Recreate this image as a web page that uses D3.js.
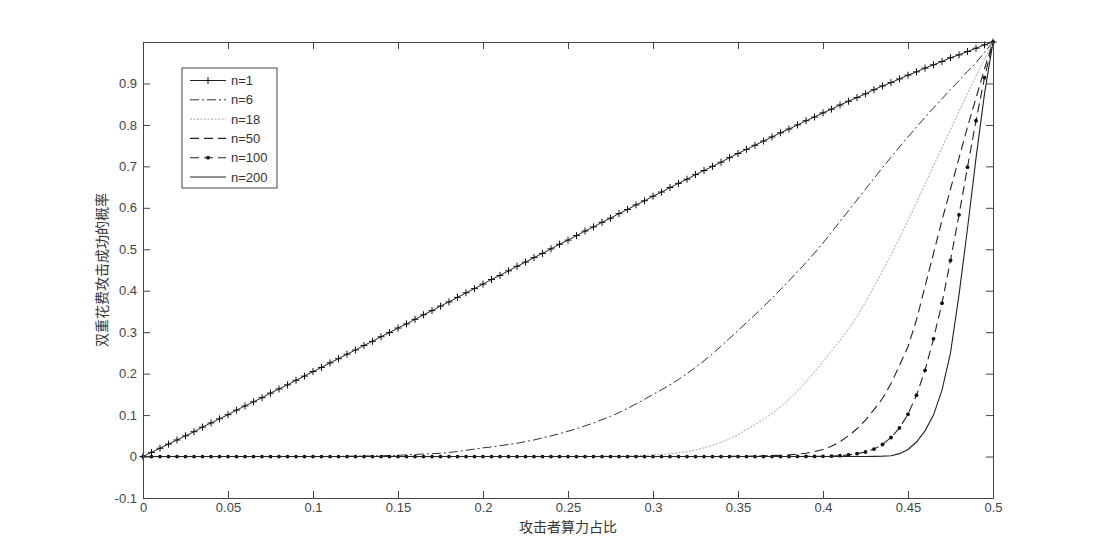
<!DOCTYPE html>
<html>
<head>
<meta charset="utf-8">
<script src="https://cdn.jsdelivr.net/npm/d3@7"></script>
<style>
body { margin:0; background:#fff; }
.axis text { font-family:"Liberation Sans", Arial, sans-serif; font-size:13px; fill:#444; }
.axis path, .axis line { stroke:#444; }
.label { font-family:"Noto Sans CJK SC", sans-serif; font-size:14px; fill:#333; }
.legend { font-family:"Liberation Sans", Arial, sans-serif; font-size:13px; fill:#333; }
</style>
</head>
<body>
<svg id="chart" width="1096" height="560"></svg>
<script>
// attacker hash share (x) sampled every 0.005
let attackerShare = [
0,0.005,0.01,0.015,0.02,0.025,0.03,0.035,0.04,0.045,
0.05,0.055,0.06,0.065,0.07,0.075,0.08,0.085,0.09,0.095,
0.1,0.105,0.11,0.115,0.12,0.125,0.13,0.135,0.14,0.145,
0.15,0.155,0.16,0.165,0.17,0.175,0.18,0.185,0.19,0.195,
0.2,0.205,0.21,0.215,0.22,0.225,0.23,0.235,0.24,0.245,
0.25,0.255,0.26,0.265,0.27,0.275,0.28,0.285,0.29,0.295,
0.3,0.305,0.31,0.315,0.32,0.325,0.33,0.335,0.34,0.345,
0.35,0.355,0.36,0.365,0.37,0.375,0.38,0.385,0.39,0.395,
0.4,0.405,0.41,0.415,0.42,0.425,0.43,0.435,0.44,0.445,
0.45,0.455,0.46,0.465,0.47,0.475,0.48,0.485,0.49,0.495,
0.5]

let n1 = [
0,0.010,0.020,0.030,0.040,0.050,0.060,0.071,0.081,0.091,
0.101,0.112,0.122,0.132,0.142,0.153,0.163,0.173,0.184,0.194,
0.205,0.215,0.226,0.236,0.247,0.257,0.268,0.278,0.289,0.299,
0.310,0.320,0.331,0.342,0.352,0.363,0.373,0.384,0.395,0.405,
0.416,0.427,0.437,0.448,0.459,0.469,0.480,0.490,0.501,0.512,
0.522,0.533,0.544,0.554,0.565,0.575,0.586,0.596,0.607,0.617,
0.628,0.638,0.649,0.659,0.669,0.680,0.690,0.700,0.710,0.721,
0.731,0.741,0.751,0.761,0.771,0.781,0.790,0.800,0.810,0.819,
0.829,0.838,0.848,0.857,0.866,0.875,0.885,0.894,0.902,0.911,
0.920,0.928,0.937,0.945,0.953,0.962,0.969,0.977,0.985,0.993,
1]

let n6 = [
0,0,0,0,0,0,0,0,0,0,
0,0,0,0,0,0,0,0,0,0,
0,0,0,0,0.001,0.001,0.0015,0.0015,0.002,0.0025,
0.003,0.004,0.005,0.006,0.007,0.008,0.010,0.012,0.015,0.018,
0.021,0.023,0.026,0.029,0.032,0.036,0.040,0.045,0.050,0.055,
0.061,0.067,0.074,0.081,0.089,0.097,0.106,0.116,0.127,0.138,
0.150,0.161,0.173,0.186,0.200,0.215,0.231,0.248,0.266,0.285,
0.304,0.323,0.342,0.362,0.382,0.403,0.424,0.446,0.468,0.491,
0.515,0.541,0.567,0.593,0.619,0.645,0.671,0.697,0.722,0.747,
0.771,0.795,0.818,0.841,0.863,0.885,0.907,0.929,0.950,0.975,
1]

let n18 = [
0,0,0,0,0,0,0,0,0,0,
0,0,0,0,0,0,0,0,0,0,
0,0,0,0,0,0,0,0,0,0,
0,0,0,0,0,0,0,0,0,0,
0,0,0,0,0,0,0,0,0,0,
0,0,0.0003,0.0005,0.0007,0.001,0.0013,0.0017,0.0022,0.003,
0.004,0.005,0.007,0.009,0.012,0.016,0.021,0.027,0.034,0.043,
0.053,0.065,0.077,0.090,0.104,0.120,0.138,0.158,0.180,0.204,
0.229,0.254,0.280,0.308,0.338,0.372,0.410,0.447,0.486,0.527,
0.569,0.613,0.657,0.701,0.745,0.789,0.832,0.875,0.917,0.959,
1]

let n50 = [
0,0,0,0,0,0,0,0,0,0,
0,0,0,0,0,0,0,0,0,0,
0,0,0,0,0,0,0,0,0,0,
0,0,0,0,0,0,0,0,0,0,
0,0,0,0,0,0,0,0,0,0,
0,0,0,0,0,0,0,0,0,0,
0,0,0,0,0,0,0,0,0,0.0003,
0.0005,0.0007,0.001,0.0015,0.002,0.003,0.004,0.006,0.008,0.012,
0.017,0.025,0.036,0.050,0.067,0.088,0.113,0.140,0.176,0.220,
0.265,0.330,0.410,0.490,0.570,0.645,0.720,0.795,0.865,0.935,
1]

let n100 = [
0,0,0,0,0,0,0,0,0,0,
0,0,0,0,0,0,0,0,0,0,
0,0,0,0,0,0,0,0,0,0,
0,0,0,0,0,0,0,0,0,0,
0,0,0,0,0,0,0,0,0,0,
0,0,0,0,0,0,0,0,0,0,
0,0,0,0,0,0,0,0,0,0,
0,0,0,0,0,0,0,0.0002,0.0003,0.0003,
0.0005,0.001,0.002,0.004,0.007,0.011,0.018,0.029,0.046,0.069,
0.102,0.148,0.208,0.284,0.370,0.473,0.583,0.698,0.810,0.914,
1]

let n200 = [
0,0,0,0,0,0,0,0,0,0,
0,0,0,0,0,0,0,0,0,0,
0,0,0,0,0,0,0,0,0,0,
0,0,0,0,0,0,0,0,0,0,
0,0,0,0,0,0,0,0,0,0,
0,0,0,0,0,0,0,0,0,0,
0,0,0,0,0,0,0,0,0,0,
0,0,0,0,0,0,0,0,0,0,
0,0,0,0,0,0,0.0005,0.001,0.002,0.007,
0.017,0.035,0.062,0.100,0.160,0.250,0.390,0.550,0.720,0.875,
1]

let seriesNames = ["n=1","n=6","n=18","n=50","n=100","n=200"]
let xTicks = [0,0.05,0.1,0.15,0.2,0.25,0.3,0.35,0.4,0.45,0.5]
let yTicks = [-0.1,0,0.1,0.2,0.3,0.4,0.5,0.6,0.7,0.8,0.9]
let xLabel = "攻击者算力占比"
let yLabel = "双重花费攻击成功的概率"

function prob_plot(axis_key){
  let svg = d3.select(`#${axis_key}`)
  svg.selectAll("*").remove()

  let left = 143, right = 993, top = 42, bottom = 498

  let xScale = d3.scaleLinear().domain([0,0.5]).range([left,right])
  let yScale = d3.scaleLinear().domain([-0.1,1]).range([bottom,top])

  // line styles, same order as seriesNames
  let styles = [
    {data:n1,   color:"#222", width:1,   dash:null,      marker:"plus"},
    {data:n6,   color:"#333", width:1,   dash:"9,3,2,3", marker:null},
    {data:n18,  color:"#999", width:0.9, dash:"2,1.5",   marker:null},
    {data:n50,  color:"#222", width:1.1, dash:"9,5",     marker:null},
    {data:n100, color:"#222", width:1.1, dash:"9,5",     marker:"dot"},
    {data:n200, color:"#222", width:1.1, dash:null,      marker:null}
  ]

  let line = d3.line()
    .x((d,i) => xScale(attackerShare[i]))
    .y(d => yScale(d))

  styles.forEach(function(s){
    svg.append("path")
      .attr("d", line(s.data))
      .attr("fill","none")
      .attr("stroke", s.color)
      .attr("stroke-width", s.width)
      .attr("stroke-dasharray", s.dash)

    if (s.marker=="plus"){
      svg.selectAll(null).data(s.data).enter()
        .append("path")
        .attr("transform",(d,i) => `translate(${xScale(attackerShare[i])},${yScale(d)})`)
        .attr("d","M-3.5,0H3.5M0,-3.5V3.5")
        .attr("stroke","#111").attr("stroke-width",1)
    }
    if (s.marker=="dot"){
      svg.selectAll(null).data(s.data).enter()
        .append("circle")
        .attr("cx",(d,i) => xScale(attackerShare[i]))
        .attr("cy",d => yScale(d))
        .attr("r",1.9)
        .attr("fill","#111")
    }
  })

  // axes, ticks pointing inwards on all four sides
  let fmt = d => String(d)
  svg.append("g").attr("class","axis")
    .attr("transform",`translate(0,${bottom})`)
    .call(d3.axisBottom(xScale).tickValues(xTicks).tickFormat(fmt).tickSize(-7).tickSizeOuter(0).tickPadding(5))
  svg.append("g").attr("class","axis")
    .attr("transform",`translate(0,${top})`)
    .call(d3.axisTop(xScale).tickValues(xTicks).tickFormat("").tickSize(-7).tickSizeOuter(0))
  svg.append("g").attr("class","axis")
    .attr("transform",`translate(${left},0)`)
    .call(d3.axisLeft(yScale).tickValues(yTicks).tickFormat(fmt).tickSize(-7).tickSizeOuter(0).tickPadding(6))
  svg.append("g").attr("class","axis")
    .attr("transform",`translate(${right},0)`)
    .call(d3.axisRight(yScale).tickValues(yTicks).tickFormat("").tickSize(-7).tickSizeOuter(0))

  // labels
  svg.append("text").attr("class","label")
    .attr("x",(left+right)/2).attr("y",532)
    .attr("text-anchor","middle")
    .text(xLabel)
  svg.append("g")
    .attr("transform",`translate(${101},${(top+bottom)/2}) rotate(270)`)
    .append("text").attr("class","label")
    .attr("text-anchor","middle")
    .attr("dominant-baseline","central")
    .text(yLabel)

  // legend
  let lg = svg.append("g").attr("transform","translate(182,68)")
  lg.append("rect").attr("width",95).attr("height",120)
    .attr("fill","#fff").attr("stroke","#444")
  styles.forEach(function(s,i){
    let y = 12.5 + i*19.3
    let row = lg.append("g").attr("transform",`translate(0,${y})`)
    row.append("line").attr("x1",8).attr("x2",44).attr("y1",0).attr("y2",0)
      .attr("stroke",s.color).attr("stroke-width",s.width)
      .attr("stroke-dasharray",s.dash)
    if (s.marker=="plus"){
      row.append("path").attr("transform","translate(26,0)")
        .attr("d","M-3.5,0H3.5M0,-3.5V3.5").attr("stroke","#111")
    }
    if (s.marker=="dot"){
      row.append("circle").attr("cx",26).attr("cy",0).attr("r",1.9).attr("fill","#111")
    }
    row.append("text").attr("class","legend")
      .attr("x",49).attr("y",0).attr("dominant-baseline","central")
      .text(seriesNames[i])
  })
}

prob_plot("chart")
</script>
</body>
</html>
